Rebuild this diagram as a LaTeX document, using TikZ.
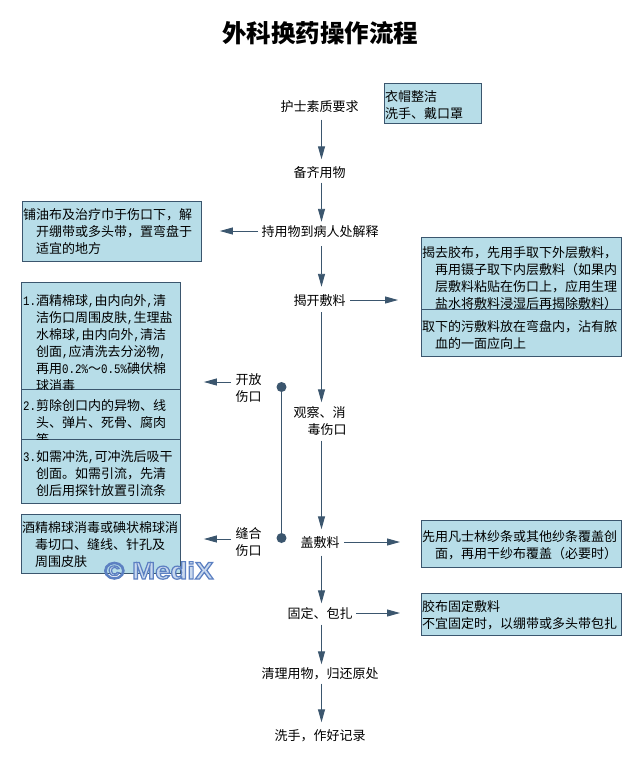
\documentclass[tikz,border=0pt]{standalone}
\usepackage{fontspec}
\setmainfont{Noto Sans CJK SC}
\newfontfamily\hwfont[FakeStretch=0.83]{Liberation Mono}
\newfontfamily\wmfont[FakeStretch=1.15,FakeBold=5,BoldFont={Liberation Sans Bold}]{Liberation Sans Bold}
\usetikzlibrary{arrows.meta}
\definecolor{ln}{HTML}{3B566E}
\definecolor{bx}{HTML}{B7DDE8}
\definecolor{wmB}{HTML}{C9D9EE}
\newcommand{\hw}[1]{{\hwfont\fontsize{13}{17}\selectfont #1}}
\newcommand{\ind}{\hspace*{13pt}}
\tikzset{
  x=1pt,y=-1pt,
  every node/.style={font=\fontsize{13}{17}\selectfont},
  lbl/.style={inner sep=0pt,minimum height=20pt,anchor=center},
  arr/.style={ln,line width=0.9pt,-{Triangle[length=13pt,width=7pt]}},
  boxn/.style={draw=ln,fill=bx,line width=0.9pt,inner sep=0pt,anchor=north west},
  boxt/.style={inner sep=0pt,anchor=north west,align=left,text=black},
  dot/.style={circle,fill=ln,inner sep=0pt,minimum size=10pt},
  wm/.style={font=\wmfont\fontsize{24}{24}\selectfont,inner sep=0pt,anchor=base west},
}
\begin{document}
\begin{tikzpicture}
\useasboundingbox (0,0) rectangle (642,761);
\fill[white] (0,0) rectangle (642,761);
\node[font=\fontsize{24.5}{28}\selectfont\bfseries,inner sep=0pt] (title) at (320,33) {外科换药操作流程};
\coordinate (axis) at (321.5,0);
% boxes
\node[boxn,minimum width=97pt,minimum height=40pt] (bcap) at (384,83) {};
\node[boxn,minimum width=179pt,minimum height=60pt] (bprep) at (22,201) {};
\node[boxn,minimum width=159pt,minimum height=107pt] (bo1) at (21,282) {};
\node[boxn,minimum width=159pt,minimum height=50pt] (bo2) at (21,389) {};
\node[boxn,minimum width=159pt,minimum height=64pt] (bo3) at (21,439) {};
\node[boxn,minimum width=159pt,minimum height=59pt] (bsut) at (21,514) {};
\node[boxn,minimum width=200pt,minimum height=72pt] (br1) at (421,237) {};
\node[boxn,minimum width=200pt,minimum height=47pt] (br2) at (421,309) {};
\node[boxn,minimum width=200pt,minimum height=47pt] (bcov) at (421,520) {};
\node[boxn,minimum width=200pt,minimum height=42pt] (bfix) at (421,593) {};
% box texts
\node[boxt] (tcap) at (385,90) {衣帽整洁\\洗手、戴口罩};
\node[boxt] (tprep) at (23,208.5) {铺油布及治疗巾于伤口下，解\\\ind 开绷带或多头带，置弯盘于\\\ind 适宜的地方};
\begin{scope}
\clip (21,282) rectangle (180,389);
\node[boxt] (to1) at (23,294.5) {\hw{1.}酒精棉球\hw{,}由内向外\hw{,}清\\\ind 洁伤口周围皮肤\hw{,}生理盐\\\ind 水棉球\hw{,}由内向外\hw{,}清洁\\\ind 创面\hw{,}应清洗去分泌物\hw{,}\\\ind 再用\hw{0.2\%}～\hw{0.5\%}碘伏棉\\\ind 球消毒};
\end{scope}
\begin{scope}
\clip (21,389) rectangle (180,439);
\node[boxt] (to2) at (23,399.5) {\hw{2.}剪除创口内的异物、线\\\ind 头、弹片、死骨、腐肉\\\ind 等};
\end{scope}
\node[boxt] (to3) at (23,450.5) {\hw{3.}如需冲洗\hw{,}可冲洗后吸干\\\ind 创面。如需引流，先清\\\ind 创后用探针放置引流条};
\node[boxt] (tsut) at (22,521.5) {酒精棉球消毒或碘状棉球消\\\ind 毒切口、缝线、针孔及\\\ind 周围皮肤};
\begin{scope}
\clip (421,237) rectangle (621,309);
\node[boxt] (tr1) at (422,246.5) {揭去胶布，先用手取下外层敷料，\\\ind 再用镊子取下内层敷料（如果内\\\ind 层敷料粘贴在伤口上，应用生理\\\ind 盐水将敷料浸湿后再揭除敷料）};
\end{scope}
\node[boxt] (tr2) at (422,320.5) {取下的污敷料放在弯盘内，沾有脓\\\ind 血的一面应向上};
\node[boxt] (tcov) at (422,530.5) {先用凡士林纱条或其他纱条覆盖创\\\ind 面，再用干纱布覆盖（必要时）};
\node[boxt] (tfix) at (422,600.5) {胶布固定敷料\\不宜固定时，以绷带或多头带包扎};
% flow labels
\node[lbl] (s1) at (319.5,106.5) {护士素质要求};
\node[lbl] (s2) at (319.5,172.5) {备齐用物};
\node[lbl] (s3) at (320,232) {持用物到病人处解释};
\node[lbl] (s4) at (319.5,301) {揭开敷料};
\node[lbl,align=left,minimum height=37pt] (s5) at (320,421) {观察、消\\\ind\hspace*{1pt}毒伤口};
\node[lbl] (s6) at (320,542.5) {盖敷料};
\node[lbl] (s7) at (320,614) {固定、包扎};
\node[lbl] (s8) at (320,673.5) {清理用物，归还原处};
\node[lbl] (s9) at (320,735.5) {洗手，作好记录};
\node[lbl,align=left,minimum height=37pt] (lo) at (248.5,388.5) {开放\\伤口};
\node[lbl,align=left,minimum height=37pt] (lc) at (248.5,542) {缝合\\伤口};
\node[dot] (d1) at (281.5,387) {};
\node[dot] (d2) at (281.5,538) {};
% connectors
\draw[arr] ([yshift=-3pt]axis |- s1.south) -- ([yshift=3pt]axis |- s2.north);
\draw[arr] (axis |- s2.south) -- (axis |- s3.north);
\draw[arr] ([yshift=-4pt]axis |- s3.south) -- ([yshift=4pt]axis |- s4.north);
\draw[arr] ([yshift=-1pt]axis |- s4.south) -- ([yshift=0pt]axis |- s5.north);
\draw[arr] ([yshift=-1pt]axis |- s5.south) -- ([yshift=3pt]axis |- s6.north);
\draw[arr] ([yshift=-3pt]axis |- s6.south) -- ([yshift=0.5pt]axis |- s7.north);
\draw[arr] ([yshift=-0.5pt]axis |- s7.south) -- ([yshift=-1pt]axis |- s8.north);
\draw[arr] (axis |- s8.south) -- ([yshift=3pt]axis |- s9.north);
\draw[ln,line width=0.9pt] (d1) -- (d2);
\coordinate (p1) at (258,231);
\coordinate (p2) at (231,382);
\coordinate (p3) at (231,539);
\coordinate (q1) at (350,300);
\coordinate (q2) at (344,542);
\coordinate (q3) at (356,613);
\draw[arr] (p1) -- ([xshift=18pt]bprep.east |- p1);
\draw[arr] (p2) -- ([xshift=23pt]bo1.east |- p2);
\draw[arr] (p3) -- ([xshift=23pt]bsut.east |- p3);
\draw[arr] (q1) -- ([xshift=-23pt]br1.west |- q1);
\draw[arr] (q2) -- ([xshift=-21pt]bcov.west |- q2);
\draw[arr] (q3) -- ([xshift=-21pt]bfix.west |- q3);
% watermark
\node[wm,text=wmB] (wmark) at (104,579) {\special{pdf:code 0.36 0.5 0.76 RG}© MediX};
\end{tikzpicture}
\end{document}
